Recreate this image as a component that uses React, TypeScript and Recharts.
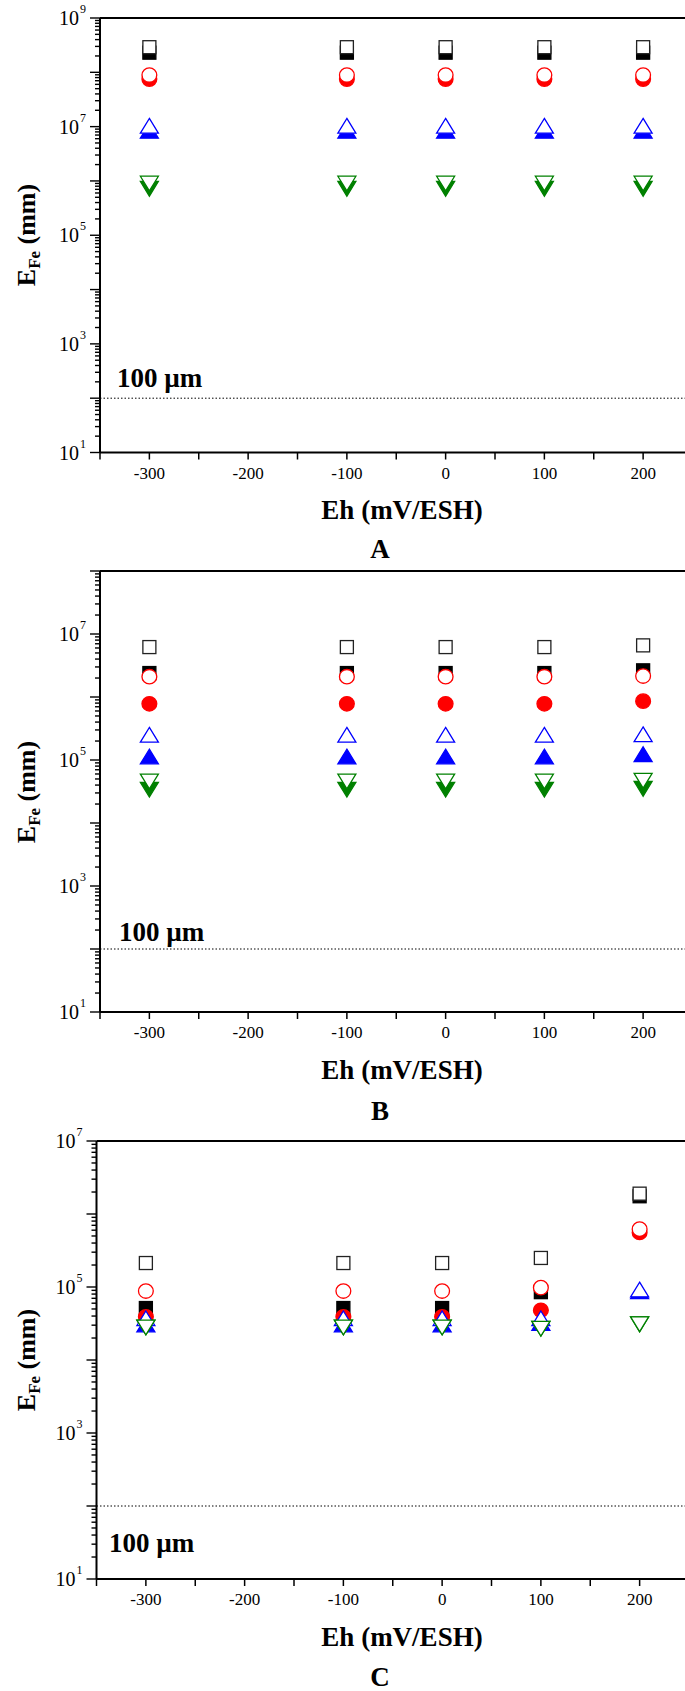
import React from "react";
import { ReferenceLine, Scatter, ScatterChart, XAxis, YAxis } from "recharts";

const SERIF = "'Liberation Serif', 'Times New Roman', Times, serif";

const ehValues = [-300, -100, 0, 100, 200];
const xTicks = [-350, -300, -250, -200, -150, -100, -50, 0, 50, 100, 150, 200, 250];
const xLabelled = [-300, -200, -100, 0, 100, 200];
const xDomain: [number, number] = [-350, 250];

// panel A
const aSquareOpen = [2.9e8, 2.9e8, 2.9e8, 2.9e8, 2.9e8];
const aSquareFilled = [2.3e8, 2.3e8, 2.3e8, 2.3e8, 2.3e8];
const aCircleOpen = [8.9e7, 8.9e7, 8.9e7, 8.9e7, 8.9e7];
const aCircleFilled = [7.5e7, 7.5e7, 7.5e7, 7.5e7, 7.5e7];
const aUpOpen = [1.03e7, 1.03e7, 1.03e7, 1.03e7, 1.03e7];
const aUpFilled = [8.3e6, 8.3e6, 8.3e6, 8.3e6, 8.3e6];
const aDownOpen = [9.0e5, 9.0e5, 9.0e5, 9.0e5, 9.0e5];
const aDownFilled = [7.2e5, 7.2e5, 7.2e5, 7.2e5, 7.2e5];

// panel B
const bSquareOpen = [6.2e6, 6.2e6, 6.2e6, 6.2e6, 6.6e6];
const bSquareFilled = [2.4e6, 2.4e6, 2.4e6, 2.4e6, 2.65e6];
const bCircleOpen = [2.1e6, 2.1e6, 2.1e6, 2.1e6, 2.15e6];
const bCircleFilled = [7.8e5, 7.8e5, 7.8e5, 7.8e5, 8.6e5];
const bUpOpen = [2.5e5, 2.5e5, 2.5e5, 2.5e5, 2.55e5];
const bUpFilled = [1.13e5, 1.13e5, 1.13e5, 1.13e5, 1.23e5];
const bDownOpen = [4.6e4, 4.6e4, 4.6e4, 4.6e4, 4.7e4];
const bDownFilled = [3.4e4, 3.4e4, 3.4e4, 3.4e4, 3.5e4];

// panel C
const cSquareOpen = [2.13e5, 2.13e5, 2.13e5, 2.5e5, 1.9e6];
const cSquareFilled = [5.15e4, 5.15e4, 5.15e4, 8.5e4, 1.75e6];
const cCircleOpen = [8.8e4, 8.8e4, 8.8e4, 9.8e4, 6.2e5];
const cCircleFilled = [3.9e4, 3.9e4, 3.9e4, 4.8e4, 5.6e5];
const cUpOpen = [3.7e4, 3.7e4, 3.7e4, 3.7e4, 9.2e4];
const cUpFilled = [3.05e4, 3.05e4, 3.05e4, 3.2e4, 8.7e4];
const cDownOpen = [2.8e4, 2.8e4, 2.8e4, 2.7e4, 3.1e4];
const cDownFilled = [2.8e4, 2.8e4, 2.8e4, 2.7e4, 3.1e4];

type Kind = "square" | "circle" | "up" | "down";
type Series = { kind: Kind; color: string; filled: boolean; values: number[] };

const BLACK = "#000000";
const RED = "#ff0000";
const BLUE = "#0000ff";
const GREEN = "#008000";

// filled markers go under the open ones
const buildSeries = (v: number[][]): Series[] => [
  { kind: "square", color: BLACK, filled: true, values: v[1] },
  { kind: "circle", color: RED, filled: true, values: v[3] },
  { kind: "up", color: BLUE, filled: true, values: v[5] },
  { kind: "down", color: GREEN, filled: true, values: v[7] },
  { kind: "square", color: BLACK, filled: false, values: v[0] },
  { kind: "circle", color: RED, filled: false, values: v[2] },
  { kind: "up", color: BLUE, filled: false, values: v[4] },
  { kind: "down", color: GREEN, filled: false, values: v[6] },
];

const logTicks = (maxExp: number) => {
  const out: number[] = [];
  for (let e = 1; e <= maxExp; e++) {
    out.push(Math.pow(10, e));
    if (e < maxExp) for (let m = 2; m <= 9; m++) out.push(m * Math.pow(10, e));
  }
  return out;
};

function Marker({ cx, cy, kind, color, filled }: { cx: number; cy: number; kind: Kind; color: string; filled: boolean }) {
  const fill = filled ? color : "#ffffff";
  const sw = 1.3;
  if (kind === "square")
    return <rect x={cx - 6.5} y={cy - 6.5} width={13} height={13} fill={fill} stroke={filled ? color : "#222"} strokeWidth={sw} />;
  if (kind === "circle") return <ellipse cx={cx} cy={cy} rx={7.4} ry={7.2} fill={fill} stroke={color} strokeWidth={sw} />;
  if (kind === "up")
    return <polygon points={`${cx},${cy - 7.5} ${cx + 9},${cy + 7.2} ${cx - 9},${cy + 7.2}`} fill={fill} stroke={color} strokeWidth={sw} />;
  return <polygon points={`${cx - 9},${cy - 7.2} ${cx + 9},${cy - 7.2} ${cx},${cy + 7.5}`} fill={fill} stroke={color} strokeWidth={sw} />;
}

const BottomTick = (props: any) => {
  const { x, y, payload } = props;
  return (
    <g>
      <line x1={x} x2={x} y1={y} y2={y + 7} stroke="#000" strokeWidth={1.5} />
      {xLabelled.includes(payload.value) && (
        <text x={x} y={y + 26} textAnchor="middle" fontFamily={SERIF} fontSize={17} fill="#000">
          {payload.value}
        </text>
      )}
    </g>
  );
};

const TopTick = (props: any) => {
  const { x, y } = props;
  return <line x1={x} x2={x} y1={y} y2={y + 7} stroke="#000" strokeWidth={1.5} />;
};

const makeYTick = (labelled: number[]) => (props: any) => {
  const { x, y, payload } = props;
  const v = payload.value as number;
  const exp = Math.floor(Math.log10(v) + 1e-9);
  const major = Math.round(v / Math.pow(10, exp)) === 1;
  const len = major ? 10 : 5;
  return (
    <g>
      <line x1={x - len} x2={x} y1={y} y2={y} stroke="#000" strokeWidth={1.4} />
      {major && labelled.includes(exp) && (
        <text x={x - 14} y={y + 7} textAnchor="end" fontFamily={SERIF} fill="#000">
          <tspan fontSize={20}>10</tspan>
          <tspan fontSize={12} dx={1} dy={-12}>
            {exp}
          </tspan>
        </text>
      )}
    </g>
  );
};

type PanelCfg = {
  letter: string;
  plotTop: number;
  plotBottom: number;
  left: number;
  maxExp: number;
  labelled: number[];
  titleY: number;
  letterY: number;
  noteY: number;
  noteX: number;
  series: Series[];
};

const panels: PanelCfg[] = [
  {
    letter: "A", plotTop: 17.5, plotBottom: 452, left: 100, maxExp: 9, labelled: [1, 3, 5, 7, 9],
    titleY: 510, letterY: 549, noteY: 378, noteX: 117,
    series: buildSeries([aSquareOpen, aSquareFilled, aCircleOpen, aCircleFilled, aUpOpen, aUpFilled, aDownOpen, aDownFilled]),
  },
  {
    letter: "B", plotTop: 571, plotBottom: 1012, left: 100, maxExp: 8, labelled: [1, 3, 5, 7],
    titleY: 1070, letterY: 1111, noteY: 932, noteX: 119,
    series: buildSeries([bSquareOpen, bSquareFilled, bCircleOpen, bCircleFilled, bUpOpen, bUpFilled, bDownOpen, bDownFilled]),
  },
  {
    letter: "C", plotTop: 1141, plotBottom: 1579, left: 96.5, maxExp: 7, labelled: [1, 3, 5, 7],
    titleY: 1637, letterY: 1677, noteY: 1543, noteX: 109,
    series: buildSeries([cSquareOpen, cSquareFilled, cCircleOpen, cCircleFilled, cUpOpen, cUpFilled, cDownOpen, cDownFilled]),
  },
];

const axisStyle = { stroke: "#000", strokeWidth: 2 };

function Text({ x, y, size, children, rotate }: { x: number; y: number; size: number; children: React.ReactNode; rotate?: boolean }) {
  return (
    <div
      style={{
        position: "absolute", left: x, top: y, fontFamily: SERIF, fontSize: size, fontWeight: 700,
        lineHeight: 1, whiteSpace: "nowrap", color: "#000",
        transform: `translate(-50%, -50%)${rotate ? " rotate(-90deg)" : ""}`,
      }}
    >
      {children}
    </div>
  );
}

function Panel({ cfg }: { cfg: PanelCfg }) {
  const topPad = 20;
  const bottomPad = 40;
  const yAxisW = 60;
  const plotW = 592.5;
  const width = cfg.left + plotW + 10;
  const height = cfg.plotBottom - cfg.plotTop + topPad + bottomPad;
  const yTicks = logTicks(cfg.maxExp);
  return (
    <>
      <div style={{ position: "absolute", left: 0, top: cfg.plotTop - topPad }}>
        <ScatterChart width={width} height={height} margin={{ top: 0, right: 10, bottom: 0, left: cfg.left - yAxisW }}>
          <XAxis xAxisId="b" dataKey="eh" type="number" domain={xDomain} ticks={xTicks} interval={0} height={bottomPad}
            tickSize={0} tickMargin={0} tickLine={false} axisLine={axisStyle} tick={BottomTick} allowDataOverflow />
          <XAxis xAxisId="t" orientation="top" type="number" domain={xDomain} ticks={xTicks} interval={0} height={topPad}
            tickSize={0} tickMargin={0} tickLine={false} axisLine={axisStyle} tick={TopTick} allowDataOverflow />
          <YAxis yAxisId="y" dataKey="e" type="number" scale="log" domain={[10, Math.pow(10, cfg.maxExp)]} ticks={yTicks}
            interval={0} width={yAxisW} tickSize={0} tickMargin={0} tickLine={false} axisLine={axisStyle}
            tick={makeYTick(cfg.labelled)} allowDataOverflow />
          <ReferenceLine xAxisId="b" yAxisId="y" y={100} stroke="#000" strokeWidth={1} strokeDasharray="1.5 2" />
          {cfg.series.map((s, i) => (
            <Scatter
              key={i}
              xAxisId="b"
              yAxisId="y"
              data={ehValues.map((eh, j) => ({ eh, e: s.values[j] }))}
              isAnimationActive={false}
              shape={(p: any) => <Marker cx={p.cx} cy={p.cy} kind={s.kind} color={s.color} filled={s.filled} />}
            />
          ))}
        </ScatterChart>
      </div>
      <Text x={402} y={cfg.titleY} size={27}>Eh (mV/ESH)</Text>
      <Text x={380} y={cfg.letterY} size={27}>{cfg.letter}</Text>
      <div style={{ position: "absolute", left: cfg.noteX, top: cfg.noteY, transform: "translateY(-50%)", fontFamily: SERIF,
        fontSize: 27, fontWeight: 700, lineHeight: 1, whiteSpace: "nowrap" }}>
        100 µm
      </div>
      <Text x={29} y={(cfg.plotTop + cfg.plotBottom) / 2} size={26} rotate>
        E<sub style={{ fontSize: "0.65em", verticalAlign: "-0.3em" }}>Fe</sub> (mm)
      </Text>
    </>
  );
}

export default function App() {
  return (
    <div style={{ position: "absolute", left: 0, top: 0, width: 685, height: 1691, overflow: "hidden", background: "#fff" }}>
      {panels.map((p) => (
        <Panel key={p.letter} cfg={p} />
      ))}
    </div>
  );
}
